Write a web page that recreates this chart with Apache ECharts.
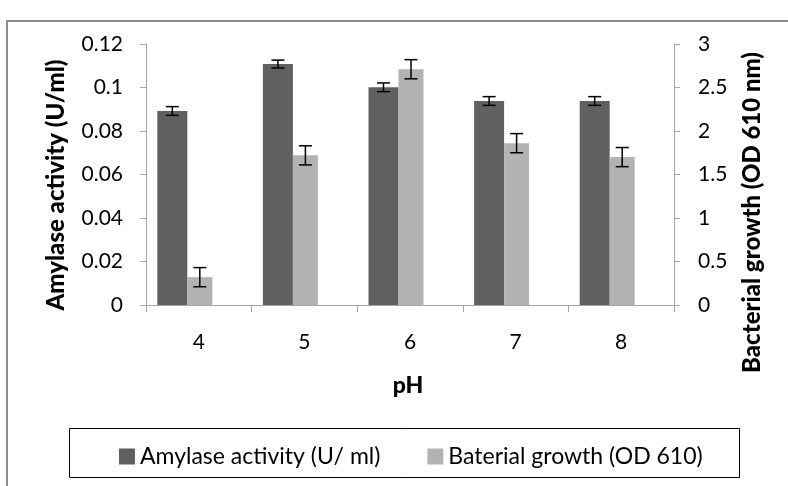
<!DOCTYPE html>
<html>
<head>
<meta charset="utf-8">
<script src="https://cdn.jsdelivr.net/npm/echarts@6/dist/echarts.min.js"></script>
<style>
  html, body { margin: 0; padding: 0; background: #fff; }
  #chart { width: 788px; height: 486px; }
</style>
</head>
<body>
<div id="chart"></div>
<script>
// pH categories
const phLevels = ['4', '5', '6', '7', '8']
// amylase activity (U/ml), left axis
const amylase = [0.0892, 0.1108, 0.1001, 0.0938, 0.0938]
const amylaseErr = [0.002, 0.0018, 0.002, 0.002, 0.002]
// bacterial growth (OD 610), right axis
const growth = [0.32, 1.72, 2.71, 1.86, 1.70]
const growthErr = [0.11, 0.11, 0.11, 0.11, 0.11]
// tick labels
const leftTicks = [0, 0.02, 0.04, 0.06, 0.08, 0.1, 0.12]
const rightTicks = [0, 0.5, 1, 1.5, 2, 2.5, 3]

const FONT = 'Lato'
const DARK_W = 30
const LIGHT_W = 25
const GAP_W = 28 // empty slot Excel leaves after the two bars
const half = (DARK_W + LIGHT_W + GAP_W) / 2
const darkOffset = -half + DARK_W / 2
const lightOffset = -half + DARK_W + LIGHT_W / 2

function errorBars(offset) {
  return function (params, api) {
    const x = api.coord([api.value(0), api.value(1)])[0] + offset
    const yLow = api.coord([api.value(0), api.value(1)])[1]
    const yHigh = api.coord([api.value(0), api.value(2)])[1]
    const cap = 6.5
    const style = { stroke: '#000', lineWidth: 1.5 }
    return {
      type: 'group',
      children: [
        { type: 'line', shape: { x1: x, y1: yLow, x2: x, y2: yHigh }, style },
        { type: 'line', shape: { x1: x - cap, y1: yLow, x2: x + cap, y2: yLow }, style },
        { type: 'line', shape: { x1: x - cap, y1: yHigh, x2: x + cap, y2: yHigh }, style }
      ]
    }
  }
}

const axisGray = '#a6a6a6'
const myChart = echarts.init(document.getElementById('chart'))
myChart.setOption({
  animation: false,
  textStyle: { fontFamily: FONT },
  grid: { left: 146, right: 114, top: 44, bottom: 181 },
  legend: {
    data: ['Amylase activity (U/ ml)', 'Baterial growth (OD 610)'],
    left: 114,
    top: 440,
    icon: 'rect',
    itemWidth: 16,
    itemHeight: 16,
    itemGap: 47,
    textStyle: { fontFamily: FONT, fontSize: 23, color: '#000' }
  },
  graphic: [
    {
      type: 'polyline',
      shape: { points: [[7, 486], [7, 21], [788, 21]] },
      style: { stroke: '#8c8c8c', lineWidth: 2, fill: null }
    },
    {
      type: 'rect',
      shape: { x: 69.5, y: 428.5, width: 670, height: 49 },
      style: { stroke: '#000', lineWidth: 1, fill: null }
    },
    {
      type: 'text',
      x: 56, y: 185, rotation: Math.PI / 2,
      style: {
        text: 'Amylase activity (U/ml)', font: '900 24px Lato',
        fill: '#000', align: 'center', verticalAlign: 'middle'
      }
    },
    {
      type: 'text',
      x: 752, y: 52, rotation: Math.PI / 2,
      style: {
        text: 'Bacterial growth (OD 610 nm)', font: '900 24px Lato',
        fill: '#000', align: 'right', verticalAlign: 'middle'
      }
    },
    {
      type: 'text',
      x: 408, y: 386,
      style: {
        text: 'pH', font: '900 23px Lato',
        fill: '#000', align: 'center', verticalAlign: 'middle'
      }
    }
  ],
  xAxis: {
    type: 'category',
    data: phLevels,
    axisLine: { lineStyle: { color: axisGray, width: 1 } },
    axisTick: { show: true, length: 7, lineStyle: { color: axisGray } },
    axisLabel: { color: '#000', fontSize: 21, margin: 27 }
  },
  yAxis: [
    {
      type: 'value',
      min: 0,
      max: 0.12,
      interval: 0.02,
      axisLine: { show: true, lineStyle: { color: axisGray } },
      axisTick: { show: true, length: 6, lineStyle: { color: axisGray } },
      splitLine: { show: false },
      axisLabel: {
        color: '#000', fontSize: 21, margin: 23,
        formatter: v => String(leftTicks[Math.round(v / 0.02)])
      }
    },
    {
      type: 'value',
      min: 0,
      max: 3,
      interval: 0.5,
      axisLine: { show: true, lineStyle: { color: axisGray } },
      axisTick: { show: true, length: 6, lineStyle: { color: axisGray } },
      splitLine: { show: false },
      axisLabel: {
        color: '#000', fontSize: 21, margin: 24,
        formatter: v => String(rightTicks[Math.round(v / 0.5)])
      }
    }
  ],
  series: [
    {
      name: 'Amylase activity (U/ ml)',
      type: 'bar',
      yAxisIndex: 0,
      data: amylase,
      barWidth: DARK_W,
      barGap: '0%',
      itemStyle: { color: '#606060' }
    },
    {
      name: 'Baterial growth (OD 610)',
      type: 'bar',
      yAxisIndex: 1,
      data: growth,
      barWidth: LIGHT_W,
      barGap: '0%',
      itemStyle: { color: '#b3b3b3' }
    },
    {
      name: 'spacer',
      type: 'bar',
      yAxisIndex: 0,
      data: [],
      barWidth: GAP_W,
      barGap: '0%'
    },
    {
      type: 'custom',
      yAxisIndex: 0,
      renderItem: errorBars(darkOffset),
      data: amylase.map((v, i) => [i, v - amylaseErr[i], v + amylaseErr[i]]),
      z: 10
    },
    {
      type: 'custom',
      yAxisIndex: 1,
      renderItem: errorBars(lightOffset),
      data: growth.map((v, i) => [i, v - growthErr[i], v + growthErr[i]]),
      z: 10
    }
  ]
})
</script>
</body>
</html>
